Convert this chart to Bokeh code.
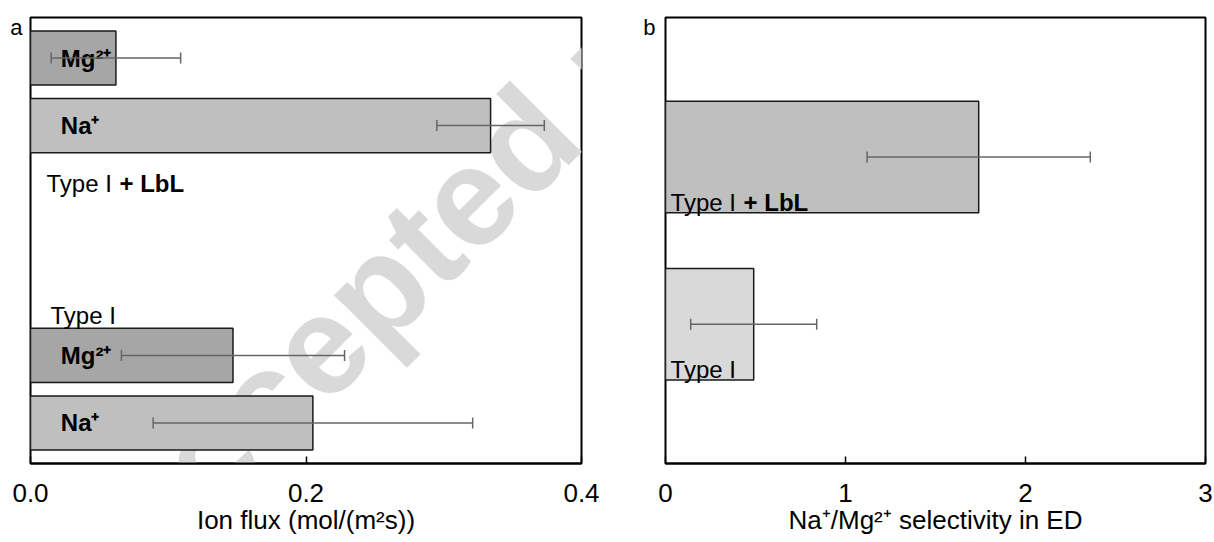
import math
from bokeh.plotting import figure
from bokeh.models import (ColumnDataSource, Whisker, TeeHead, FixedTicker,
                          PrintfTickFormatter, Label, Range1d)
from bokeh.layouts import row
from bokeh.embed import file_html
from bokeh.resources import INLINE
from bokeh.core.properties import value

# ---------------- data ----------------
# panel a: ion flux (mol/(m2 s))
flux_ions = ["Mg²⁺", "Na⁺", "Mg²⁺", "Na⁺"]
flux_groups = ["Type I + LbL", "Type I + LbL", "Type I", "Type I"]
flux_values = [0.062, 0.334, 0.147, 0.205]
flux_errors = [0.047, 0.039, 0.081, 0.116]
flux_ticks = [0.0, 0.2, 0.4]

# panel b: Na+/Mg2+ selectivity
sel_groups = ["Type I + LbL", "Type I"]
sel_values = [1.74, 0.49]
sel_errors = [0.62, 0.35]
sel_ticks = [0, 1, 2, 3]

# ---------------- layout / style ----------------
FONT = "Liberation Sans"
flux_pos = [6.0, 5.0, 1.6, 0.6]
flux_bar_h = 0.8
sel_pos = [2.75, 1.25]
sel_bar_h = 1.0
ion_colors = {"Mg²⁺": "#a6a6a6", "Na⁺": "#bfbfbf"}
sel_colors = ["#bfbfbf", "#d9d9d9"]
ERR_COLOR = "#666666"
WM_COLOR = "#d9d9d9"


def style_axis(p, ticks, fmt, title):
    p.grid.visible = False
    p.outline_line_color = "black"
    p.outline_line_width = 2
    p.background_fill_color = "white"
    p.border_fill_color = "white"
    ax = p.xaxis[0]
    ax.ticker = FixedTicker(ticks=ticks)
    ax.formatter = PrintfTickFormatter(format=fmt)
    ax.major_tick_in = 7
    ax.major_tick_out = 0
    ax.major_tick_line_width = 1.5
    ax.major_tick_line_color = "black"
    ax.minor_tick_line_color = None
    ax.axis_line_width = 2
    ax.axis_line_color = "black"
    ax.major_label_text_font = FONT
    ax.major_label_text_font_size = "26px"
    ax.major_label_text_color = "black"
    ax.major_label_standoff = 20
    ax.axis_label = title
    ax.axis_label_text_font = FONT
    ax.axis_label_text_font_size = "26px"
    ax.axis_label_text_font_style = "normal"
    ax.axis_label_text_color = "black"
    ax.axis_label_standoff = 0


def panel_letter(p, ypos, letter, standoff):
    # the panel letter sits outside the frame, so it is drawn as the left axis' only label
    ay = p.yaxis[0]
    ay.ticker = FixedTicker(ticks=[ypos])
    ay.major_label_overrides = {ypos: letter}
    ay.axis_line_color = None
    ay.major_tick_line_color = None
    ay.minor_tick_line_color = None
    ay.major_tick_in = 0
    ay.major_tick_out = 0
    ay.major_label_standoff = standoff
    ay.major_label_text_font = FONT
    ay.major_label_text_font_size = "22px"
    ay.major_label_text_color = "black"


def add_whiskers(p, src):
    w = Whisker(source=src, base="y", lower="lower", upper="upper",
                dimension="width", line_color=ERR_COLOR, line_width=1.5,
                level="overlay",
                upper_head=TeeHead(size=11, line_color=ERR_COLOR, line_width=1.5),
                lower_head=TeeHead(size=11, line_color=ERR_COLOR, line_width=1.5))
    p.add_layout(w)


def watermark(p, x, y):
    p.add_layout(Label(x=x, y=y, x_units="canvas", y_units="canvas",
                       text="Accepted manuscript", text_font=FONT,
                       text_font_style="bold", text_font_size="140px",
                       text_color=WM_COLOR, angle=math.radians(45),
                       text_align="left", text_baseline="alphabetic",
                       level="underlay"))


# ---------------- panel a ----------------
A_W, A_H = 630, 542
A_L, A_R, A_T, A_B = 30, 49, 14, 79
pa = figure(width=A_W, height=A_H, x_range=Range1d(0.0, 0.4), y_range=Range1d(0.0, 6.6),
            output_backend="svg", toolbar_location=None,
            min_border_left=A_L, min_border_right=A_R,
            min_border_top=A_T, min_border_bottom=A_B)
style_axis(pa, flux_ticks, "%.1f", "Ion flux (mol/(m²s))")
panel_letter(pa, 6.45, "a", 8)

src_a = ColumnDataSource(dict(
    y=flux_pos, value=flux_values,
    lower=[v - e for v, e in zip(flux_values, flux_errors)],
    upper=[v + e for v, e in zip(flux_values, flux_errors)],
    color=[ion_colors[i] for i in flux_ions],
    ion=flux_ions,
    lx=[0.022] * len(flux_pos),
))
pa.hbar(y="y", height=flux_bar_h, left=0, right="value", fill_color="color",
        line_color="#1a1a1a", line_width=1.5, source=src_a)
pa.text(x="lx", y="y", text="ion", source=src_a, text_font=value(FONT),
        text_font_style="bold", text_font_size="24px", text_color="black",
        text_align="left", text_baseline="middle")
add_whiskers(pa, src_a)

# group labels in panel a
for gx, gy, gt in zip([0.0116, 0.0145], [4.15, 2.19], [flux_groups[0], flux_groups[2]]):
    if "+" in gt:
        base, extra = gt.split(" + ")
        pa.text(x=[gx], y=[gy], text=[base + " "], text_font=value(FONT),
                text_font_size="24px", text_color="black", text_baseline="alphabetic")
        pa.text(x=[gx], y=[gy], text=["+ " + extra], text_font=value(FONT),
                text_font_style="bold", text_font_size="24px", text_color="black",
                text_baseline="alphabetic", x_offset=73)
    else:
        pa.text(x=[gx], y=[gy], text=[gt], text_font=value(FONT),
                text_font_size="24px", text_color="black", text_baseline="alphabetic")

# watermark (faint, behind the data)
watermark(pa, 108, 556)

# ---------------- panel b ----------------
B_W, B_H = 584, 542
B_L, B_R, B_T, B_B = 35, 9, 17, 79
pb = figure(width=B_W, height=B_H, x_range=Range1d(0.0, 3.0), y_range=Range1d(0.0, 4.0),
            output_backend="svg", toolbar_location=None,
            min_border_left=B_L, min_border_right=B_R,
            min_border_top=B_T, min_border_bottom=B_B)
style_axis(pb, sel_ticks, "%d", "Na⁺/Mg²⁺ selectivity in ED")
panel_letter(pb, 3.91, "b", 10)

src_b = ColumnDataSource(dict(
    y=sel_pos, value=sel_values,
    lower=[v - e for v, e in zip(sel_values, sel_errors)],
    upper=[v + e for v, e in zip(sel_values, sel_errors)],
    color=sel_colors,
))
pb.hbar(y="y", height=sel_bar_h, left=0, right="value", fill_color="color",
        line_color="#1a1a1a", line_width=1.5, source=src_b)
add_whiskers(pb, src_b)

for py, gt in zip(sel_pos, sel_groups):
    ty = py - sel_bar_h / 2 + 0.09
    if "+" in gt:
        base, extra = gt.split(" + ")
        pb.text(x=[0.028], y=[ty], text=[base + " "], text_font=value(FONT),
                text_font_size="24px", text_color="black", text_baseline="alphabetic")
        pb.text(x=[0.028], y=[ty], text=["+ " + extra], text_font=value(FONT),
                text_font_style="bold", text_font_size="24px", text_color="black",
                text_baseline="alphabetic", x_offset=73)
    else:
        pb.text(x=[0.028], y=[ty], text=[gt], text_font=value(FONT),
                text_font_size="24px", text_color="black", text_baseline="alphabetic")

layout = row(pa, pb)
open("out.html", "w").write(file_html(layout, INLINE))
